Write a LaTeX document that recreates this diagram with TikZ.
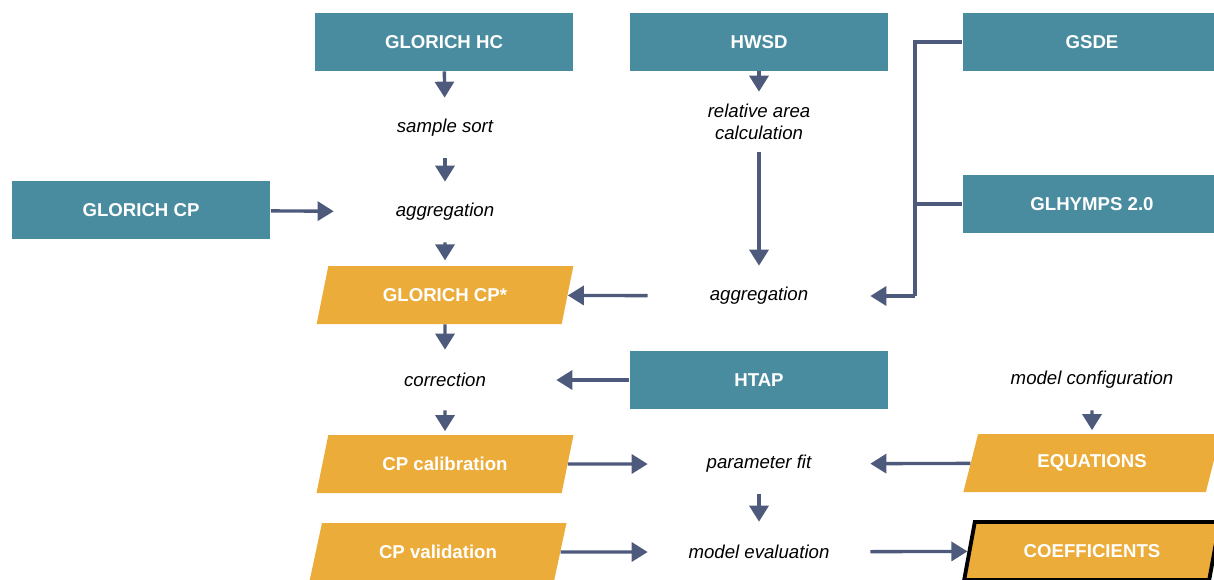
\documentclass[tikz,border=0pt]{standalone}
\usepackage{fontspec}
\setmainfont{Liberation Sans}
\usepackage{tikz}
\usetikzlibrary{positioning,shapes.geometric,arrows.meta}

\definecolor{dataTeal}{HTML}{4A8C9F}
\definecolor{dataOrange}{HTML}{ECAC39}
\definecolor{flowBlue}{HTML}{4E5A7C}

\begin{document}
\begin{tikzpicture}[
        x=0.02cm, y=-0.02cm,
        % define styles
        source/.style={
            rectangle,
            fill=dataTeal,
            text=white,
            font=\fontsize{10.6}{12.7}\selectfont\bfseries,
            minimum width=5.18cm,
            minimum height=1.16cm
        },
        dataset/.style={
            trapezium,
            trapezium left angle=76,
            trapezium right angle=104,
            trapezium stretches=true,
            fill=dataOrange,
            text=white,
            font=\fontsize{10.6}{12.7}\selectfont\bfseries,
            minimum width=5.16cm,
            minimum height=1.16cm,
            inner xsep=0pt
        },
        result/.style={
            dataset,
            draw=black,
            line width=2.2pt
        },
        process/.style={
            align=center,
            font=\fontsize{10.6}{12.7}\selectfont\itshape,
            minimum width=4.44cm,
            minimum height=1.2cm
        },
        flow/.style={
            draw=flowBlue,
            line width=1.9pt,
            -{Triangle[width=0.38cm,length=0.32cm]}
        }
    ]
    \useasboundingbox (0,0) rectangle (1214,579);

    % source data
    \node[source] (hc)     at (444,42)  {GLORICH HC};
    \node[source] (hwsd)   at (759,42)  {HWSD};
    \node[source] (gsde)   at (1092,42) {GSDE};
    \node[source] (cp)     at (141,210) {GLORICH CP};
    \node[source] (glhymps) at (1092,204) {GLHYMPS 2.0};
    \node[source] (htap)   at (759,380) {HTAP};

    % processing steps
    \node[process] (sort)    at (445,128) {sample sort};
    \node[process] (aggcp)   at (445,212) {aggregation};
    \node[process] (relarea) at (759,122) {relative area\\calculation};
    \node[process] (agggeo)  at (759,296) {aggregation};
    \node[process] (corr)    at (445,380) {correction};
    \node[process] (config)  at (1092,380) {model configuration};
    \node[process] (fit)     at (759,464) {parameter fit};
    \node[process] (eval)    at (759,552) {model evaluation};

    % data sets
    \node[dataset] (cpstar) at (445,295) {GLORICH CP*};
    \node[dataset] (calib)  at (445,464) {CP calibration};
    \node[dataset] (valid)  at (438,552) {CP validation};
    \node[dataset] (equ)    at (1092,463) {EQUATIONS};
    \node[result]  (coeff)  at (1092,551) {COEFFICIENTS};

    % left column
    \draw[flow] (hc) -- (sort);
    \draw[flow] (sort) -- (aggcp);
    \draw[flow] (cp) -- (aggcp);
    \draw[flow, shorten >=3pt] (aggcp) -- (cpstar);
    \draw[flow] (cpstar) -- (corr);
    \draw[flow, shorten >=2pt] (corr) -- (calib);
    \draw[flow] (htap) -- (corr);

    % middle column
    \draw[flow] (hwsd) -- (relarea);
    \draw[flow] (relarea) -- (agggeo);
    \draw[flow] (agggeo) -- (cpstar);

    % geodata join
    \coordinate (join) at (915,296);
    \draw[draw=flowBlue, line width=1.9pt] (gsde.west) -| (join);
    \draw[draw=flowBlue, line width=1.9pt] (glhymps.west) -- (join |- glhymps.west);
    \draw[flow] (join) -- (agggeo);

    % model
    \draw[flow, shorten >=2pt] (config) -- (equ);
    \draw[flow] (calib) -- (fit);
    \draw[flow] (equ) -- (fit);
    \draw[flow] (fit) -- (eval);
    \draw[flow] (valid) -- (eval);
    \draw[flow] (eval) -- (coeff);

\end{tikzpicture}
\end{document}
